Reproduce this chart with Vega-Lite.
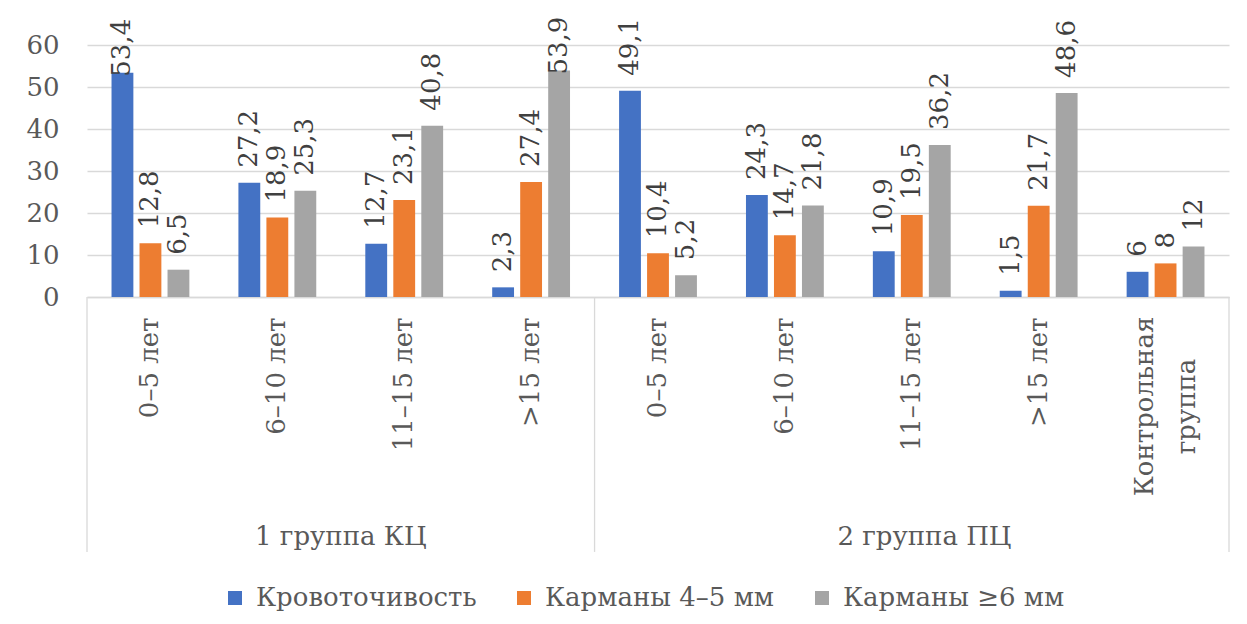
{
  "$schema": "https://vega.github.io/schema/vega-lite/v6.json",
  "width": 1142,
  "height": 252,
  "autosize": {"type": "none"},
  "padding": {"left": 87, "top": 45, "right": 18, "bottom": 327},
  "background": "white",
  "config": {
    "view": {"stroke": null},
    "font": "DejaVu Serif",
    "locale": {"number": {"decimal": ",", "thousands": " ", "grouping": [3], "currency": ["", ""]}}
  },
  "datasets": {
    "main": [
      {"cat": "1|0–5 лет", "series": "Кровоточивость", "value": 53.4},
      {"cat": "1|6–10 лет", "series": "Кровоточивость", "value": 27.2},
      {"cat": "1|11–15 лет", "series": "Кровоточивость", "value": 12.7},
      {"cat": "1|>15 лет", "series": "Кровоточивость", "value": 2.3},
      {"cat": "2|0–5 лет", "series": "Кровоточивость", "value": 49.1},
      {"cat": "2|6–10 лет", "series": "Кровоточивость", "value": 24.3},
      {"cat": "2|11–15 лет", "series": "Кровоточивость", "value": 10.9},
      {"cat": "2|>15 лет", "series": "Кровоточивость", "value": 1.5},
      {"cat": "2|Контрольная группа", "series": "Кровоточивость", "value": 6},
      {"cat": "1|0–5 лет", "series": "Карманы 4–5 мм", "value": 12.8},
      {"cat": "1|6–10 лет", "series": "Карманы 4–5 мм", "value": 18.9},
      {"cat": "1|11–15 лет", "series": "Карманы 4–5 мм", "value": 23.1},
      {"cat": "1|>15 лет", "series": "Карманы 4–5 мм", "value": 27.4},
      {"cat": "2|0–5 лет", "series": "Карманы 4–5 мм", "value": 10.4},
      {"cat": "2|6–10 лет", "series": "Карманы 4–5 мм", "value": 14.7},
      {"cat": "2|11–15 лет", "series": "Карманы 4–5 мм", "value": 19.5},
      {"cat": "2|>15 лет", "series": "Карманы 4–5 мм", "value": 21.7},
      {"cat": "2|Контрольная группа", "series": "Карманы 4–5 мм", "value": 8},
      {"cat": "1|0–5 лет", "series": "Карманы ≥6 мм", "value": 6.5},
      {"cat": "1|6–10 лет", "series": "Карманы ≥6 мм", "value": 25.3},
      {"cat": "1|11–15 лет", "series": "Карманы ≥6 мм", "value": 40.8},
      {"cat": "1|>15 лет", "series": "Карманы ≥6 мм", "value": 53.9},
      {"cat": "2|0–5 лет", "series": "Карманы ≥6 мм", "value": 5.2},
      {"cat": "2|6–10 лет", "series": "Карманы ≥6 мм", "value": 21.8},
      {"cat": "2|11–15 лет", "series": "Карманы ≥6 мм", "value": 36.2},
      {"cat": "2|>15 лет", "series": "Карманы ≥6 мм", "value": 48.6},
      {"cat": "2|Контрольная группа", "series": "Карманы ≥6 мм", "value": 12}
    ]
  },
  "layer": [
    {
      "data": {"name": "main"},
      "mark": {"type": "bar"},
      "encoding": {
        "x": {
          "field": "cat", "type": "nominal", "title": null,
          "scale": {"domain": ["1|0–5 лет", "1|6–10 лет", "1|11–15 лет", "1|>15 лет", "2|0–5 лет", "2|6–10 лет", "2|11–15 лет", "2|>15 лет", "2|Контрольная группа"], "paddingInner": 0, "paddingOuter": 0},
          "axis": {
            "domain": true, "domainColor": "#d9d9d9", "domainWidth": 1.3, "ticks": false, "grid": false,
            "labelAngle": -90, "labelBaseline": "middle",
            "labelAlign": {"condition": {"test": "datum.value == '2|Контрольная группа'", "value": "center"}, "value": "right"},
            "labelPadding": {"condition": {"test": "datum.value == '2|Контрольная группа'", "value": 109}, "value": 20},
            "labelOffset": {"condition": {"test": "datum.value == '2|Контрольная группа'", "value": -21}, "value": 0},
            "labelFont": "DejaVu Serif", "labelFontSize": 26, "labelColor": "#595959", "labelLineHeight": 42, "labelLimit": 400,
            "labelExpr": "datum.value == '2|Контрольная группа' ? ['Контрольная', 'группа'] : split(datum.value, '|')[1]"
          }
        },
        "xOffset": {
          "field": "series", "type": "nominal",
          "scale": {"domain": ["Кровоточивость", "Карманы 4–5 мм", "Карманы ≥6 мм"], "paddingInner": 0.22, "paddingOuter": 0.876}
        },
        "y": {
          "field": "value", "type": "quantitative", "title": null,
          "scale": {"domain": [0, 60], "nice": false, "zero": false},
          "axis": {
            "domain": false, "ticks": false, "grid": true, "gridColor": "#d9d9d9", "gridWidth": 1.3,
            "values": [0, 10, 20, 30, 40, 50, 60], "labelFont": "DejaVu Serif", "labelFontSize": 26,
            "labelColor": "#595959", "labelPadding": 28
          }
        },
        "color": {
          "field": "series", "type": "nominal",
          "scale": {"domain": ["Кровоточивость", "Карманы 4–5 мм", "Карманы ≥6 мм"], "range": ["#4472C4", "#ED7D31", "#A5A5A5"]},
          "legend": {
            "orient": "none", "legendX": 135, "legendY": 540, "direction": "horizontal", "columns": 3, "title": null,
            "symbolType": "square", "symbolSize": 196, "symbolStrokeWidth": 0, "labelFont": "DejaVu Serif",
            "labelFontSize": 26, "labelColor": "#595959", "labelOffset": 8, "columnPadding": 34, "labelLimit": 400
          }
        }
      }
    },
    {
      "data": {"name": "main"},
      "transform": [{"filter": "datum.value <= 50"}],
      "mark": {"type": "text", "angle": 270, "align": "left", "baseline": "middle", "dx": 15, "font": "DejaVu Serif", "fontSize": 26, "fill": "#404040"},
      "encoding": {
        "x": {"field": "cat", "type": "nominal"},
        "xOffset": {"field": "series", "type": "nominal"},
        "y": {"field": "value", "type": "quantitative"},
        "text": {"field": "value", "type": "quantitative", "format": "~g"}
      }
    },
    {
      "data": {"name": "main"},
      "transform": [{"filter": "datum.value > 50"}],
      "mark": {"type": "text", "angle": 270, "align": "left", "baseline": "middle", "dx": -4, "font": "DejaVu Serif", "fontSize": 26, "fill": "#404040"},
      "encoding": {
        "x": {"field": "cat", "type": "nominal"},
        "xOffset": {"field": "series", "type": "nominal"},
        "y": {"field": "value", "type": "quantitative"},
        "text": {"field": "value", "type": "quantitative", "format": "~g"}
      }
    },
    {
      "data": {"values": [{}]},
      "mark": {"type": "rule", "color": "#d9d9d9", "strokeWidth": 1.3},
      "encoding": {
        "x": {"datum": "1|0–5 лет", "type": "nominal", "bandPosition": 0},
        "y": {"datum": 0, "type": "quantitative"},
        "y2": {"datum": -60.7}
      }
    },
    {
      "data": {"values": [{}]},
      "mark": {"type": "rule", "color": "#d9d9d9", "strokeWidth": 1.3},
      "encoding": {
        "x": {"datum": "2|0–5 лет", "type": "nominal", "bandPosition": 0},
        "y": {"datum": 0, "type": "quantitative"},
        "y2": {"datum": -60.7}
      }
    },
    {
      "data": {"values": [{}]},
      "mark": {"type": "rule", "color": "#d9d9d9", "strokeWidth": 1.3},
      "encoding": {
        "x": {"datum": "2|Контрольная группа", "type": "nominal", "bandPosition": 1},
        "y": {"datum": 0, "type": "quantitative"},
        "y2": {"datum": -60.7}
      }
    },
    {
      "data": {"values": [{"label": "1 группа КЦ"}]},
      "mark": {"type": "text", "align": "center", "baseline": "middle", "font": "DejaVu Serif", "fontSize": 26, "fill": "#595959"},
      "encoding": {
        "x": {"datum": "1|6–10 лет", "type": "nominal", "bandPosition": 1},
        "y": {"datum": -57.1, "type": "quantitative"},
        "text": {"field": "label"}
      }
    },
    {
      "data": {"values": [{"label": "2 группа ПЦ"}]},
      "mark": {"type": "text", "align": "center", "baseline": "middle", "font": "DejaVu Serif", "fontSize": 26, "fill": "#595959"},
      "encoding": {
        "x": {"datum": "2|11–15 лет", "type": "nominal", "bandPosition": 0.6},
        "y": {"datum": -57.1, "type": "quantitative"},
        "text": {"field": "label"}
      }
    }
  ]
}
